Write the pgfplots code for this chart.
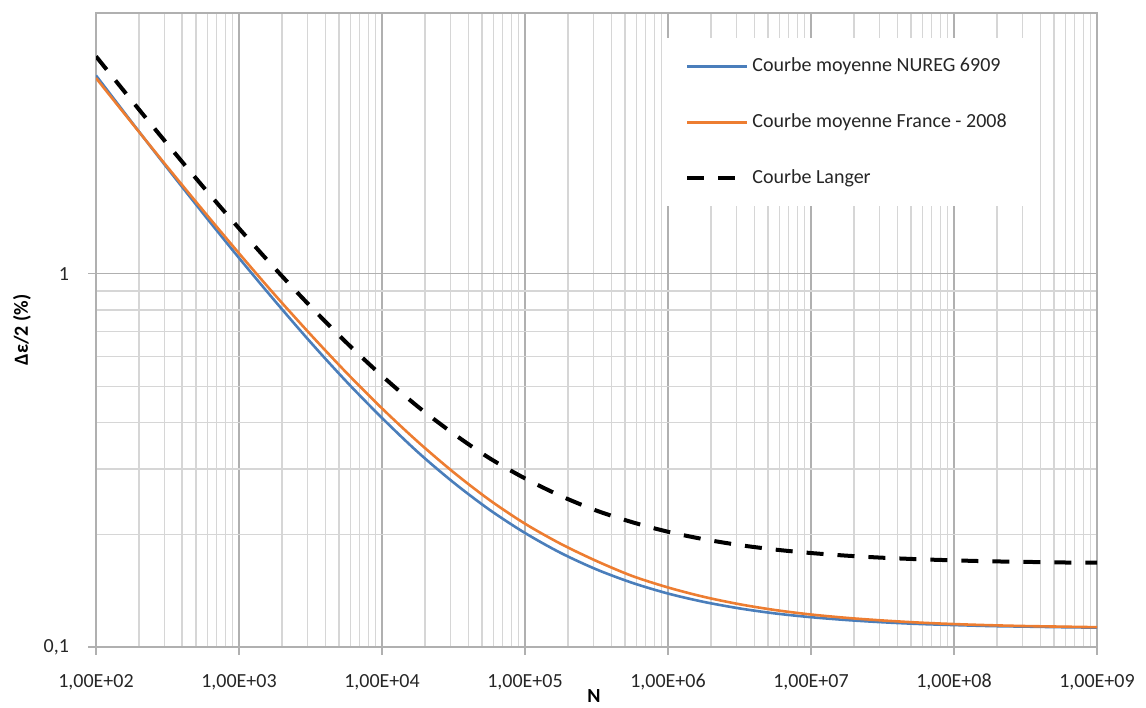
\documentclass[border=0pt]{standalone}
\usepackage{fontspec}
\setmainfont{Carlito}
\usepackage{pgfplots}
\pgfplotsset{compat=1.18}
\definecolor{nureg}{HTML}{4A7EBB}
\definecolor{france}{HTML}{ED7D31}
\definecolor{gmaj}{HTML}{B0B0B0}
\definecolor{gmin}{HTML}{D6D6D6}
\begin{document}
\begin{tikzpicture}
\useasboundingbox (-48pt,-30pt) rectangle (525pt,323.5pt);
\begin{loglogaxis}[
  name=ax,
  at={(0,0)}, anchor=south west,
  width=500.5pt, height=317pt, scale only axis,
  xmin=1e2, xmax=1e9, ymin=0.1, ymax=5,
  xtick={1e2,1e3,1e4,1e5,1e6,1e7,1e8,1e9},
  xticklabels={{1,00E+02},{1,00E+03},{1,00E+04},{1,00E+05},{1,00E+06},{1,00E+07},{1,00E+08},{1,00E+09}},
  ytick={0.1,1}, yticklabels={{0,1},{1}},
  grid=both,
  major grid style={gmaj, line width=0.6pt},
  minor grid style={gmin, line width=0.6pt},
  axis line style={gmaj, line width=0.6pt},
  tick align=outside, tick pos=left,
  major tick length=4pt, minor tick length=0pt,
  every tick/.style={gmaj, line width=0.6pt},
  tick label style={font=\fontsize{10}{12}\selectfont, text=black!85},
  /pgf/number format/assume math mode=true,
  xticklabel style={yshift=-6pt},
  yticklabel style={xshift=-6pt},
  xlabel={\textbf{N}},
  ylabel={\textbf{Δε/2 (\%)}},
  xlabel style={at={(axis description cs:0.4975,-0.077)}, anchor=center, font=\fontsize{10}{12}\selectfont},
  ylabel style={at={(axis description cs:-0.074,0.5)}, anchor=center, font=\fontsize{10}{12}\selectfont},
  legend style={at={(axis description cs:0.5704,0.9606)}, anchor=north west,
    draw=none, fill=white, inner xsep=9pt, inner ysep=8pt, row sep=16pt,
    font=\fontsize{10}{12}\selectfont, text=black!85,
    nodes={inner sep=1.5pt, text height=7pt, text depth=2pt}},
  legend cell align=left,
  legend image code/.code={\draw[#1] (0pt,0pt) -- (30pt,0pt);},
]
\addplot[nureg, line width=1.3pt, smooth] coordinates {
(1e2,3.401) (1.7783e2,2.549) (3.1623e2,1.918) (5.6234e2,1.450)
(1e3,1.103) (1.7783e3,0.847) (3.1623e3,0.656) (5.6234e3,0.515)
(1e4,0.411) (1.7783e4,0.333) (3.1623e4,0.276) (5.6234e4,0.2335)
(1e5,0.2021) (1.7783e5,0.1787) (3.1623e5,0.1614) (5.6234e5,0.1486)
(1e6,0.1391) (1.7783e6,0.1321) (3.1623e6,0.1269) (5.6234e6,0.1230)
(1e7,0.1202) (1.7783e7,0.1181) (3.1623e7,0.1165) (5.6234e7,0.1153)
(1e8,0.1145) (1.7783e8,0.1138) (3.1623e8,0.1134) (5.6234e8,0.1130)
(1e9,0.1127)
};
\addlegendentry{Courbe moyenne NUREG 6909}
\addplot[france, line width=1.3pt, smooth] coordinates {
(1e2,3.348) (1.7783e2,2.539) (3.1623e2,1.932) (5.6234e2,1.477)
(1e3,1.135) (1.7783e3,0.879) (3.1623e3,0.688) (5.6234e3,0.544)
(1e4,0.436) (1.7783e4,0.355) (3.1623e4,0.294) (5.6234e4,0.248)
(1e5,0.214) (1.7783e5,0.189) (3.1623e5,0.170) (5.6234e5,0.155)
(1e6,0.1444) (1.7783e6,0.1363) (3.1623e6,0.1302) (5.6234e6,0.1256)
(1e7,0.1222) (1.7783e7,0.1197) (3.1623e7,0.1178) (5.6234e7,0.1163)
(1e8,0.1152) (1.7783e8,0.1144) (3.1623e8,0.1138) (5.6234e8,0.1134)
(1e9,0.1130)
};
\addlegendentry{Courbe moyenne France - 2008}
\addplot[black, line width=2pt, dash pattern=on 8.5pt off 7pt, smooth] coordinates {
(1e2,3.827) (1.7783e2,2.912) (3.1623e2,2.225) (5.6234e2,1.710)
(1e3,1.324) (1.7783e3,1.035) (3.1623e3,0.818) (5.6234e3,0.655)
(1e4,0.533) (1.7783e4,0.441) (3.1623e4,0.373) (5.6234e4,0.321)
(1e5,0.283) (1.7783e5,0.254) (3.1623e5,0.232) (5.6234e5,0.216)
(1e6,0.2036) (1.7783e6,0.1945) (3.1623e6,0.1876) (5.6234e6,0.1824)
(1e7,0.1786) (1.7783e7,0.1757) (3.1623e7,0.1735) (5.6234e7,0.1719)
(1e8,0.1707) (1.7783e8,0.1697) (3.1623e8,0.1691) (5.6234e8,0.1685)
(1e9,0.1682)
};
\addlegendentry{Courbe Langer}
\end{loglogaxis}
\end{tikzpicture}
\end{document}
